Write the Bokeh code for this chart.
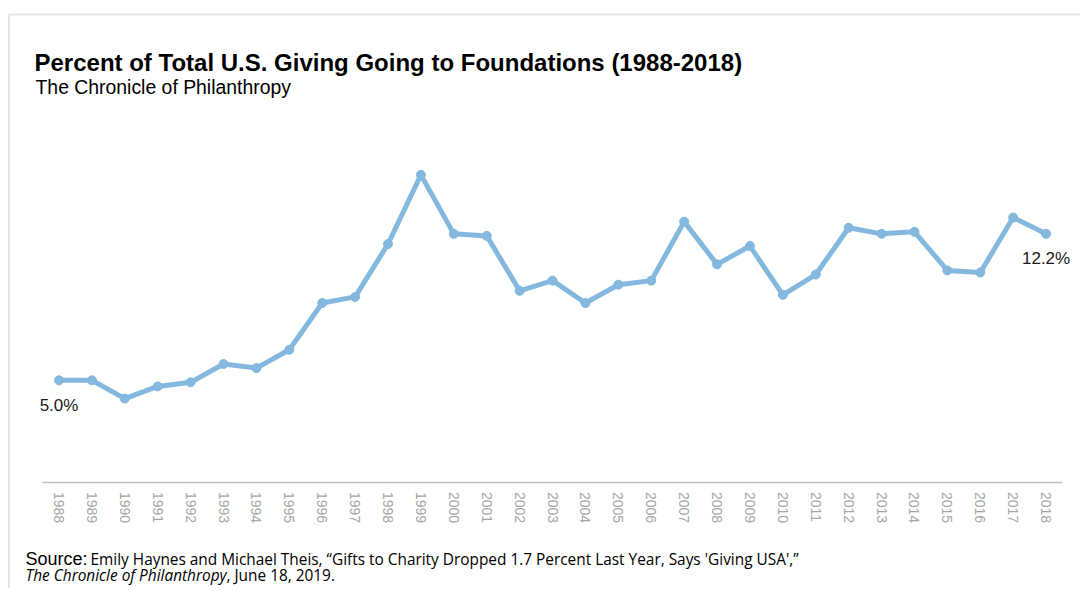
import numpy as np
from bokeh.plotting import figure
from bokeh.models import ColumnDataSource, Label, Range1d, BoxAnnotation, FixedTicker
from bokeh.embed import file_html
from bokeh.resources import INLINE

years = list(range(1988, 2019))
pct = [5.0, 5.0, 4.1, 4.7, 4.9, 5.8, 5.6, 6.5, 8.8, 9.1, 11.7, 15.1, 12.2, 12.1,
       9.4, 9.9, 8.8, 9.7, 9.9, 12.8, 10.7, 11.6, 9.2, 10.2, 12.5, 12.2, 12.3,
       10.4, 10.3, 13.0, 12.2]

title_text = "Percent of Total U.S. Giving Going to Foundations (1988-2018)"
subtitle_text = "The Chronicle of Philanthropy"
source_lead = "Source:"
source_rest = "Emily Haynes and Michael Theis, \u201cGifts to Charity Dropped 1.7 Percent Last Year, Says 'Giving USA',\u201d"
source_pub = "The Chronicle of Philanthropy"
source_date = ", June 18, 2019."

LINE = "#85B8DF"
FONT = "Liberation Sans"
NOTE_FONT = "Open Sans"

W, H = 1080, 588
KX = 32.903          # pixels per year
KY = 20.34           # pixels per percentage point
X0_PX = 58.5         # pixel of the first year
Y0_PX = 481.5        # pixel of the axis (0 %)

x_start = years[0] - X0_PX / KX
y_start = -(H - Y0_PX) / KY

p = figure(width=W, height=H,
           x_range=Range1d(x_start, x_start + W / KX),
           y_range=Range1d(y_start, y_start + H / KY),
           output_backend="svg", toolbar_location=None,
           min_border=0, min_border_left=0, min_border_right=0,
           min_border_top=0, min_border_bottom=0)
p.outline_line_color = None
p.grid.grid_line_color = None
p.yaxis.visible = False
p.background_fill_color = "white"
p.border_fill_color = "white"

ax = p.xaxis[0]
ax.fixed_location = 0
ax.bounds = (years[0] - 0.5, years[-1] + 0.5)
ax.ticker = FixedTicker(ticks=years)
ax.axis_line_color = "#bfbfbf"
ax.axis_line_width = 1.5
ax.major_tick_line_color = None
ax.minor_tick_line_color = None
ax.major_tick_in = 0
ax.major_tick_out = 0
ax.major_label_orientation = "vertical"
ax.major_label_standoff = 10
ax.major_label_text_color = "#a6a6a6"
ax.major_label_text_font = FONT
ax.major_label_text_font_size = "14px"

src = ColumnDataSource(dict(x=years, y=pct))
p.line("x", "y", source=src, line_color=LINE, line_width=5)
p.scatter("x", "y", source=src, size=9, fill_color=LINE, line_color=LINE)

for i in (0, len(years) - 1):
    p.add_layout(Label(x=years[i], y=pct[i] - 25 / KY, text=f"{pct[i]:.1f}%",
                       text_align="center", text_baseline="middle",
                       text_font=FONT, text_font_size="17px", text_color="#1a1a1a"))

LABEL_SHIFT = 8.5   # bokeh draws alphabetic-baseline labels this many px lower

def px(page_x):
    return x_start + page_x / KX

def py(page_y):
    return (Y0_PX - (page_y - LABEL_SHIFT)) / KY

def add_label(txt, x, y, size, style="normal", font=FONT, color="#000000"):
    p.add_layout(Label(x=px(x), y=py(y), text=txt,
                       text_font=font, text_font_size=size, text_font_style=style,
                       text_color=color, text_baseline="alphabetic", text_align="left"))

add_label(title_text, 34, 70, "24px", "bold")
add_label(subtitle_text, 35, 95, "19.4px")
add_label(source_lead, 25, 567, "18px")
add_label(source_rest, 90, 567, "15.4px", font=NOTE_FONT)
add_label(source_pub, 25, 583, "15.4px", "italic", font=NOTE_FONT)
add_label(source_date, 226, 583, "15.4px", font=NOTE_FONT)

p.add_layout(BoxAnnotation(left=px(8.5), right=px(1300), top=(Y0_PX - 14) / KY,
                           bottom=(Y0_PX - 900) / KY,
                           fill_color=None, line_color="#a8a8a8", line_width=2))

open("out.html", "w").write(file_html(p, INLINE))
